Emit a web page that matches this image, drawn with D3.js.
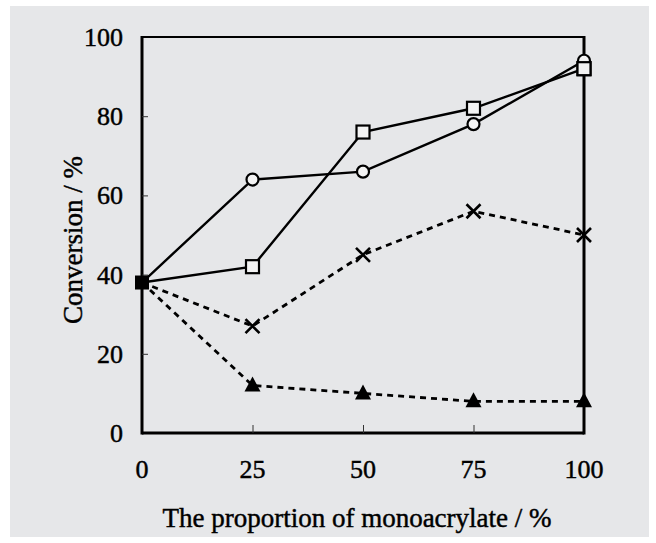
<!DOCTYPE html>
<html><head><meta charset="utf-8">
<script src="https://cdn.jsdelivr.net/npm/d3@7"></script>
<style>html,body{margin:0;padding:0;background:#fff;}svg{display:block;}
text{font-family:'Liberation Serif','Times New Roman',serif;fill:#000;stroke:#000;stroke-width:0.45px;}</style>
</head><body>
<svg id="c" width="656" height="543"></svg>
<script>
const proportions = [0, 25, 50, 75, 100];
const circleSeries = [38, 64, 66, 78, 94];
const squareSeries = [38, 42, 76, 82, 92];
const crossSeries = [38, 27, 45, 56, 50];
const triangleSeries = [38, 12, 10, 8, 8];
const xTicks = [0, 25, 50, 75, 100];
const yTicks = [0, 20, 40, 60, 80, 100];

const svg = d3.select("#c");
svg.append("rect").attr("x",10).attr("y",6).attr("width",639).attr("height",531).attr("fill","#e6e7e9");

const x = d3.scaleLinear().domain([0,100]).range([142,584]);
const y = d3.scaleLinear().domain([0,100]).range([433,37]);
const markerFill = "#f3f3f3";

// frame
svg.append("line").attr("x1",x(0)).attr("x2",x(100)).attr("y1",y(100)).attr("y2",y(100)).attr("stroke","#000").attr("stroke-width",2);
svg.append("line").attr("x1",x(0)).attr("x2",x(100)).attr("y1",y(0)).attr("y2",y(0)).attr("stroke","#000").attr("stroke-width",3);
svg.append("line").attr("x1",x(0)).attr("x2",x(0)).attr("y1",y(0)+1.5).attr("y2",y(100)-1).attr("stroke","#000").attr("stroke-width",3);
svg.append("line").attr("x1",x(100)).attr("x2",x(100)).attr("y1",y(0)+1.5).attr("y2",y(100)-1).attr("stroke","#000").attr("stroke-width",3);

// axes via d3
const yAxis = svg.append("g").attr("transform",`translate(${x(0)},0)`)
  .call(d3.axisRight(y).tickValues(yTicks.filter(v=>v>0&&v<100)).tickSize(6).tickFormat(""));
yAxis.select(".domain").remove();
yAxis.selectAll("line").attr("stroke","#333").attr("stroke-width",1);
const xAxis = svg.append("g").attr("transform",`translate(0,${y(0)})`)
  .call(d3.axisTop(x).tickValues(xTicks.filter(v=>v>0&&v<100)).tickSize(8).tickFormat(""));
xAxis.select(".domain").remove();
xAxis.selectAll("line").attr("stroke","#333").attr("stroke-width",1);

// tick labels
svg.selectAll("text.yl").data(yTicks).enter().append("text")
  .attr("x",123).attr("y",d=>y(d)+9).attr("text-anchor","end")
  .style("font-size","26px").text(d=>d);
svg.selectAll("text.xl").data(xTicks).enter().append("text")
  .attr("x",d=>x(d)).attr("y",478).attr("text-anchor","middle")
  .style("font-size","26px").text(d=>d);

svg.append("text").attr("x",357).attr("y",527).attr("text-anchor","middle")
  .style("font-size","27px").text("The proportion of monoacrylate / %");
svg.append("text").attr("transform","translate(82,240) rotate(-90)").attr("text-anchor","middle")
  .style("font-size","27px").text("Conversion / %");

const line = d3.line().x((d,i)=>x(proportions[i])).y(d=>y(d));
function drawLine(data, dashed){
  svg.append("path").datum(data).attr("d",line).attr("fill","none").attr("stroke","#000")
    .attr("stroke-width",dashed?2.8:2.4).attr("stroke-dasharray",dashed?"6,5":null);
}
drawLine(triangleSeries,true);
drawLine(crossSeries,true);
drawLine(squareSeries,false);
drawLine(circleSeries,false);

const pts = s => s.map((v,i)=>({x:proportions[i],v})).filter(d=>d.x>0);

svg.selectAll("path.tri").data(pts(triangleSeries)).enter().append("path")
  .attr("transform",d=>`translate(${x(d.x)},${y(d.v)})`)
  .attr("d","M0,-9 L8,6 L-8,6 Z").attr("fill","#000");
svg.selectAll("path.cr").data(pts(crossSeries)).enter().append("path")
  .attr("transform",d=>`translate(${x(d.x)},${y(d.v)})`)
  .attr("d","M-7,-7 L7,7 M-7,7 L7,-7").attr("stroke","#000").attr("stroke-width",2.6).attr("fill","none");
svg.selectAll("rect.sq").data(pts(squareSeries)).enter().append("rect")
  .attr("x",d=>x(d.x)-6.5).attr("y",d=>y(d.v)-6.5).attr("width",13).attr("height",13)
  .attr("fill",markerFill).attr("stroke","#000").attr("stroke-width",2.2);
svg.selectAll("circle.ci").data(pts(circleSeries)).enter().append("circle")
  .attr("cx",d=>x(d.x)).attr("cy",d=>y(d.v)).attr("r",6)
  .attr("fill",markerFill).attr("stroke","#000").attr("stroke-width",2.2);
svg.append("rect").datum({x:100,v:squareSeries[4]})
  .attr("x",d=>x(d.x)-6.5).attr("y",d=>y(d.v)-6.5).attr("width",13).attr("height",13)
  .attr("fill",markerFill).attr("stroke","#000").attr("stroke-width",2.2);
svg.append("rect").datum({x:0,v:circleSeries[0]})
  .attr("x",d=>x(d.x)-7).attr("y",d=>y(d.v)-7).attr("width",14).attr("height",14).attr("fill","#000");
</script>
</body></html>
